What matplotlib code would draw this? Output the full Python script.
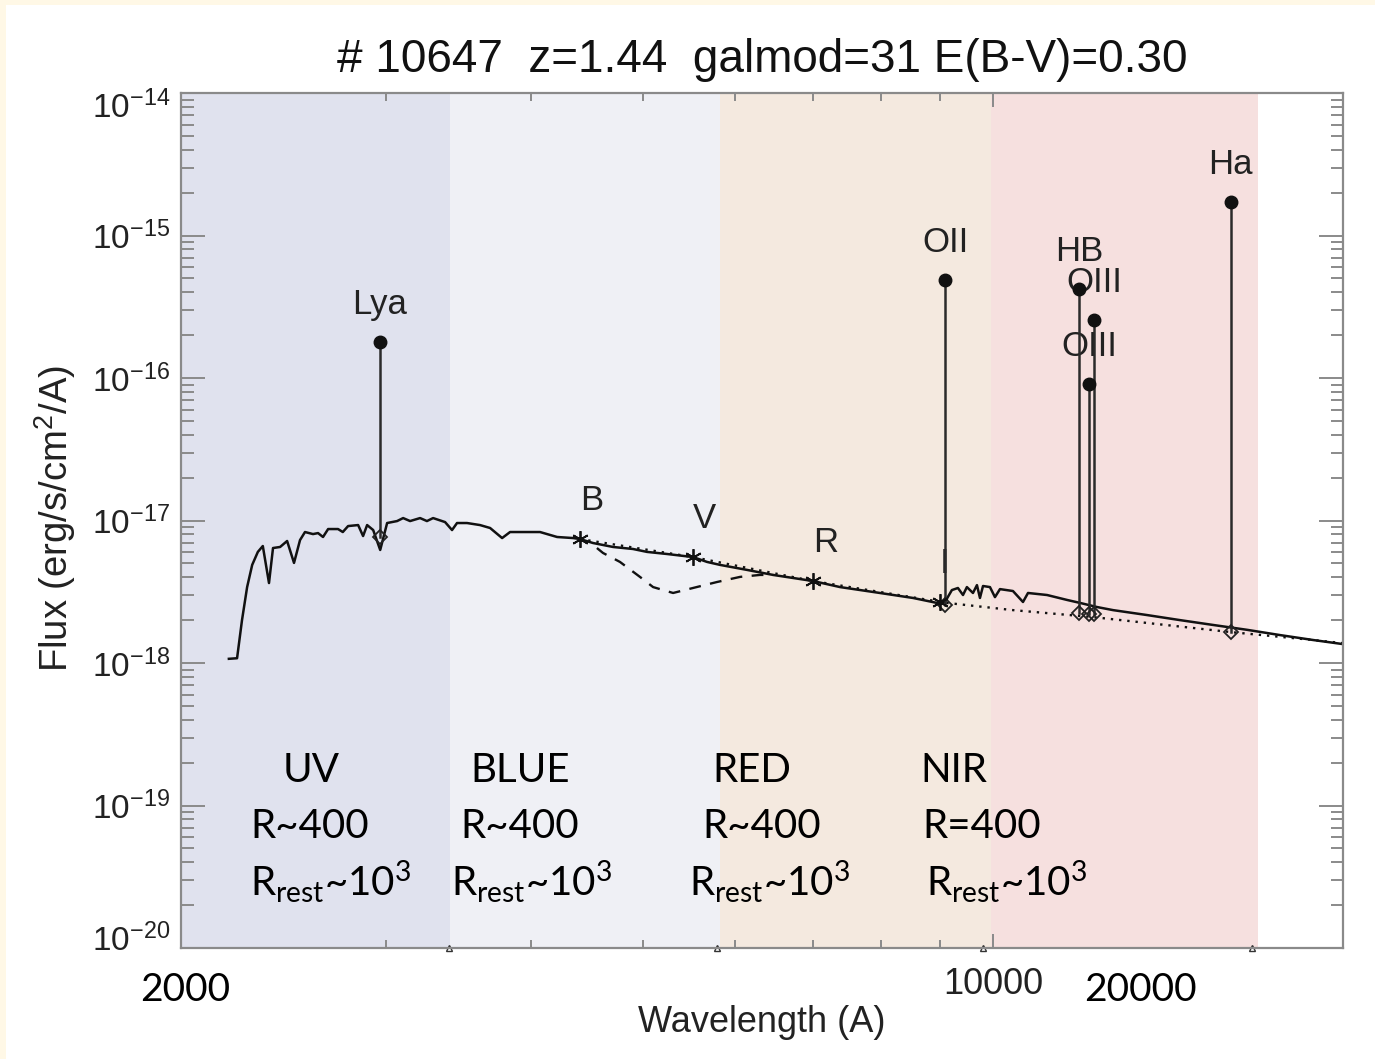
import numpy as np
import matplotlib.pyplot as plt
from matplotlib.patches import Rectangle
from matplotlib.ticker import FixedLocator, FuncFormatter, NullFormatter
from matplotlib.transforms import ScaledTranslation

plt.rcParams['font.family'] = 'Liberation Sans'

W, H = 1375, 1059

# model spectrum (solid)
spec_wave = [2199, 2235, 2257, 2280, 2303, 2329, 2352, 2381, 2400, 2434, 2468, 2502,
             2532, 2557, 2598, 2624, 2650, 2677, 2730, 2756, 2785, 2841, 2869, 2892,
             2927, 2968, 3009, 3069, 3106, 3149, 3212, 3256, 3296, 3375, 3422, 3456,
             3525, 3617, 3690, 3779, 3839, 3939, 4074, 4214, 4350, 4410, 4525, 4708,
             4898, 5036, 5240, 5516, 5672, 5820, 6140, 6465, 6998, 7383, 7990, 8531,
             8945, 9088, 9214, 9325, 9419, 9492, 9607, 9683, 9741, 9800, 9936, 10035,
             10135, 10399, 10608, 10714, 11126, 11576, 11878, 12285, 12681, 13564,
             14478, 15455, 16534, 17655, 18848, 19960]
spec_flux = [1.07e-18, 1.08e-18, 2.00e-18, 3.41e-18, 4.88e-18, 6.02e-18, 6.62e-18,
             3.64e-18, 6.41e-18, 6.52e-18, 7.18e-18, 5.04e-18, 7.29e-18, 8.30e-18,
             8.03e-18, 8.16e-18, 7.66e-18, 8.71e-18, 8.71e-18, 8.30e-18, 9.14e-18,
             9.29e-18, 7.78e-18, 9.29e-18, 8.57e-18, 6.21e-18, 9.60e-18, 9.91e-18,
             1.04e-17, 9.91e-18, 1.04e-17, 9.91e-18, 1.04e-17, 9.75e-18, 8.57e-18,
             9.60e-18, 9.60e-18, 9.29e-18, 8.86e-18, 7.53e-18, 8.30e-18, 8.30e-18,
             8.30e-18, 7.66e-18, 7.53e-18, 7.41e-18, 6.95e-18, 6.52e-18, 6.31e-18,
             6.02e-18, 5.82e-18, 5.54e-18, 5.12e-18, 4.88e-18, 4.50e-18, 4.15e-18,
             3.76e-18, 3.41e-18, 3.10e-18, 2.86e-18, 2.64e-18, 2.68e-18, 3.25e-18,
             3.36e-18, 3.00e-18, 3.41e-18, 3.10e-18, 3.52e-18, 2.86e-18, 3.47e-18,
             3.41e-18, 2.90e-18, 3.30e-18, 3.20e-18, 2.68e-18, 3.10e-18, 3.00e-18,
             2.77e-18, 2.64e-18, 2.47e-18, 2.35e-18, 2.17e-18, 2.00e-18, 1.85e-18,
             1.71e-18, 1.57e-18, 1.45e-18, 1.36e-18]

# reddened variant around 4000A break (dashed)
dash_wave = [4560, 4615, 4773, 4966, 5097, 5303, 5516, 5784, 6055, 6300, 6465]
dash_flux = [6.41e-18, 5.92e-18, 5.12e-18, 4.02e-18, 3.41e-18, 3.10e-18, 3.36e-18,
             3.70e-18, 4.02e-18, 4.15e-18, 4.15e-18]

# stellar continuum without lines (dotted)
cont_wave = [4410, 5516, 6998, 9124, 10399, 12185, 13564, 15990, 18848, 19960]
cont_flux = [7.41e-18, 5.54e-18, 3.76e-18, 2.64e-18, 2.35e-18, 2.10e-18, 1.91e-18,
             1.65e-18, 1.45e-18, 1.38e-18]

# emission lines
line_names = ['Lya', 'OII', 'HB', 'OIII', 'OIII', 'Ha']
line_wave = [2966, 9094, 11861, 12100, 12217, 16014]
line_peak = [1.79e-16, 4.87e-16, 4.21e-16, 9.08e-17, 2.55e-16, 1.72e-15]
line_base = [7.66e-18, 2.55e-18, 2.24e-18, 2.21e-18, 2.21e-18, 1.65e-18]

# broad-band photometry
filt_names = ['B', 'V', 'R', 'I']
filt_wave = [4410, 5516, 6998, 9000]
filt_flux = [7.41e-18, 5.54e-18, 3.76e-18, 2.68e-18]

# spectrograph arms
band_names = ['UV', 'BLUE', 'RED', 'NIR']
band_res = ['R~400', 'R~400', 'R~400', 'R=400']
band_edges = [2000, 3410, 5820, 9950, 16900]
band_marks = [3400, 5780, 9800, 16700]
band_colors = ['#e0e2ee', '#eff0f5', '#f4e9df', '#f6e0df']


def fx(x):
    return x / W


def fy(y):
    return 1 - y / H


fig = plt.figure(figsize=(W / 100, H / 100), dpi=100, facecolor='#fff8e6')
fig.add_artist(Rectangle((fx(6), 0), 1, fy(5), transform=fig.transFigure,
                         facecolor='white', edgecolor='none', zorder=-10))

ax = fig.add_axes([fx(181), fy(948), fx(1343) - fx(181), fy(93) - fy(948)])
ax.set_xscale('log')
ax.set_yscale('log')
ax.set_xlim(2000, 20000)
ax.set_ylim(1e-20, 1e-14)
ax.set_facecolor('white')

for i in range(4):
    ax.axvspan(band_edges[i], band_edges[i + 1], color=band_colors[i], lw=0, zorder=0)
ax.plot(band_marks, [1e-20] * 4, ls='none', marker='^', ms=5, mfc='none',
        mec='#333333', mew=1, clip_on=False, zorder=5)

ax.plot(spec_wave, spec_flux, color='#111111', lw=1.8, zorder=3)
ax.plot(dash_wave, dash_flux, color='#111111', lw=1.7, ls=(0, (5, 4)), zorder=3)
ax.plot(cont_wave, cont_flux, color='#111111', lw=1.7, ls=(0, (1, 2.5)), zorder=3)

for name, w, pk, bs in zip(line_names, line_wave, line_peak, line_base):
    ax.plot([w, w], [bs, pk], color='#2b2b2b', lw=1.8, zorder=4)
    ax.plot(w, pk, 'o', color='#111111', ms=9, zorder=5)
    ax.plot(w, bs, 'D', mfc='none', mec='#222222', mew=1.3, ms=7, zorder=5)
    ax.annotate(name, (w, pk), xytext=(0, 27), textcoords='offset points',
                ha='center', va='center', fontsize=25, color='#222222')

ax.plot(filt_wave, filt_flux, ls='none', marker=(6, 2, 0), ms=12, mew=1.3,
        color='#111111', zorder=5)
for name, w, f in zip(filt_names, filt_wave, filt_flux):
    ax.annotate(name, (w, f), xytext=(0, 28), textcoords='offset points',
                ha='left', va='center', fontsize=25, color='#222222')

# axes styling
for sp in ax.spines.values():
    sp.set_color('#8a8a8a')
    sp.set_linewidth(1.6)
    sp.set_zorder(6)

ax.yaxis.set_major_locator(FixedLocator([10.0 ** k for k in range(-20, -13)]))
ax.yaxis.set_minor_locator(FixedLocator([m * 10.0 ** k for k in range(-20, -14)
                                         for m in range(2, 10)]))
ax.yaxis.set_major_formatter(FuncFormatter(
    lambda v, p: r'$\mathregular{10^{%d}}$' % round(np.log10(v))))
ax.yaxis.set_minor_formatter(NullFormatter())

ax.xaxis.set_major_locator(FixedLocator([10000]))
ax.xaxis.set_minor_locator(FixedLocator([m * 1000 for m in range(2, 10)]))
ax.xaxis.set_major_formatter(FuncFormatter(lambda v, p: '%d' % v))
ax.xaxis.set_minor_formatter(NullFormatter())

ax.tick_params(which='both', direction='in', top=True, right=True, color='#8a8a8a',
               width=1.4, labelcolor='#222222')
ax.tick_params(axis='y', which='major', length=17, labelsize=24, pad=8)
ax.tick_params(axis='y', which='minor', length=9)
ax.tick_params(axis='x', which='major', length=10, labelsize=26, pad=14)
ax.tick_params(axis='x', which='minor', length=6)

# end labels of the flux axis sit inside the frame
yticks = ax.yaxis.get_major_ticks()
yticks[0].label1.set_transform(yticks[0].label1.get_transform()
                               + ScaledTranslation(0, 8 / 72, fig.dpi_scale_trans))
yticks[-1].label1.set_transform(yticks[-1].label1.get_transform()
                                + ScaledTranslation(0, -8 / 72, fig.dpi_scale_trans))

fig.text(fx(762), fy(60), '# 10647  z=1.44  galmod=31 E(B-V)=0.30',
         ha='center', va='center', fontsize=33, color='#111111')
fig.text(fx(762), fy(1023), 'Wavelength (A)', ha='center', va='center',
         fontsize=26, color='#222222')
fig.text(fx(55), fy(518), r'Flux (erg/s/cm$\mathregular{^2}$/A)', ha='center',
         va='center', rotation=90, fontsize=27.5, color='#222222')

# arm labels
name_x = [283, 470, 712, 920]
res_x = [250, 460, 702, 922]
rest_x = [250, 451, 689, 926]
for i in range(4):
    fig.text(fx(name_x[i]), fy(782), band_names[i], ha='left', va='baseline',
             fontsize=29, family='Lato', color='black')
    fig.text(fx(res_x[i]), fy(838), band_res[i], ha='left', va='baseline',
             fontsize=29, family='Lato', color='black')
    fig.text(fx(rest_x[i]), fy(896), r'R$\mathregular{_{rest}}$~10$\mathregular{^3}$',
             ha='left', va='baseline', fontsize=29, family='Lato', color='black')

fig.text(fx(185), fy(990), '2000', ha='center', va='center', fontsize=28,
         family='Lato', color='black')
fig.text(fx(1140), fy(990), '20000', ha='center', va='center', fontsize=28,
         family='Lato', color='black')

fig.savefig('out.png', dpi=100, facecolor=fig.get_facecolor())
